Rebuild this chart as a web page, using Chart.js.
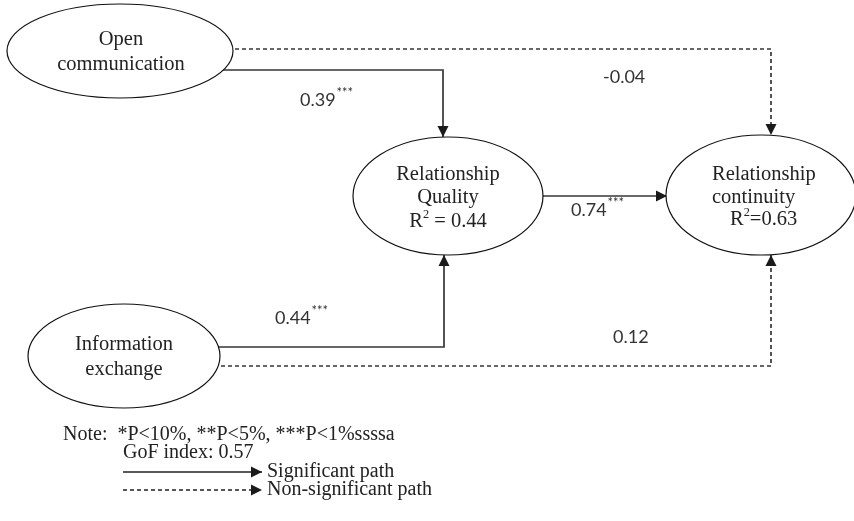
<!DOCTYPE html>
<html lang="en">
<head>
  <meta charset="UTF-8">
  <title>Path model</title>
  <script src="https://cdn.jsdelivr.net/npm/chart.js"></script>
  <style>
    body { margin: 0; background: #fff; }
    #grafico { display: block; }
  </style>
</head>
<body>
  <canvas id="grafico" width="854" height="521"></canvas>

<script>
  // constructs and their labels
  const construtos = ['Open communication', 'Relationship Quality', 'Relationship continuity', 'Information exchange'];
  const r2 = [null, 0.44, 0.63, null];

  // paths: origin, destination, coefficient, stars, significant?
  const origem = [0, 0, 1, 3, 3];
  const destino = [1, 2, 2, 1, 2];
  const coeficientes = ['0.39', '-0.04', '0.74', '0.44', '0.12'];
  const estrelas = ['***', '', '***', '***', ''];
  const significativo = [true, false, true, true, false];

  const notas = ['Note:  *P<10%, **P<5%, ***P<1%ssssa', 'GoF index: 0.57'];
  const legendaTxt = ['Significant path', 'Non-significant path'];

  // layout (diagram units = pixels of the original)
  const elipses = [
    { cx: 120, cy: 51, rx: 113, ry: 47, linhas: [[['Open']], [['communication']]], al: 'center', x: 121, ys: [40, 65] },
    { cx: 448, cy: 196, rx: 95, ry: 59, linhas: [[['Relationship']], [['Quality']], [['R'], ['2', 1], [' = ']]], al: 'center', x: 448, ys: [175, 198, 222] },
    { cx: 761, cy: 195, rx: 95, ry: 60, linhas: [[['Relationship']], [['continuity']], [['R'], ['2', 1], ['=']]], al: 'left', x: 712, xs: [712, 712, 730], ys: [175, 198, 220] },
    { cx: 124, cy: 356, rx: 96, ry: 52, linhas: [[['Information']], [['exchange']]], al: 'center', x: 124, ys: [345, 370] }
  ];
  const rotasX = [[200, 443, 443], [200, 771, 771], [520, 667], [200, 444, 444], [200, 771, 771]];
  const rotasY = [[70, 70, 137], [49, 49, 135], [196, 196], [347, 347, 255], [366, 366, 255]];
  const rotulos = [[300, 100], [603, 77], [571, 210], [275, 318], [613, 337]];

  const legX = [123, 262];
  const legY = [472, 490];
  const notaPos = [[63, 435], [123, 453]];

  // R² text comes from the data array
  elipses[1].linhas[2][2][0] += r2[1].toFixed(2);
  elipses[2].linhas[2][2][0] += r2[2].toFixed(2);

  const datasets = rotasX.map((xs, i) => ({
    label: construtos[origem[i]] + ' -> ' + construtos[destino[i]],
    data: xs.map((x, j) => ({ x: x, y: rotasY[i][j] })),
    showLine: true,
    borderColor: '#363636',
    borderWidth: 1.7,
    borderDash: significativo[i] ? [] : [4, 3],
    pointRadius: 0,
    fill: false
  }));
  // legend sample lines
  legY.forEach((y, i) => {
    datasets.push({
      label: legendaTxt[i],
      data: legX.map(x => ({ x: x, y: y })),
      showLine: true,
      borderColor: '#222',
      borderWidth: 1.3,
      borderDash: i === 0 ? [] : [4, 3],
      pointRadius: 0
    });
  });

  function seta(ctx, x1, y1, x2, y2) {
    const ang = Math.atan2(y2 - y1, x2 - x1);
    const L = 11, W = 5.5;
    ctx.beginPath();
    ctx.moveTo(x2, y2);
    ctx.lineTo(x2 - L * Math.cos(ang) + W * Math.sin(ang), y2 - L * Math.sin(ang) - W * Math.cos(ang));
    ctx.lineTo(x2 - L * Math.cos(ang) - W * Math.sin(ang), y2 - L * Math.sin(ang) + W * Math.cos(ang));
    ctx.closePath();
    ctx.fill();
  }

  function linhaRica(ctx, partes, x, y, al, tam) {
    const medir = p => { ctx.font = (p[1] ? tam * 0.6 : tam) + 'px "Liberation Serif"'; return ctx.measureText(p[0]).width; };
    let total = partes.reduce((s, p) => s + medir(p), 0);
    let cx = al === 'center' ? x - total / 2 : x;
    partes.forEach(p => {
      const w = medir(p);
      ctx.fillText(p[0], cx, p[1] ? y - tam * 0.35 : y);
      cx += w;
    });
  }

  const diagrama = {
    id: 'diagrama',
    afterDatasetsDraw(chart) {
      const ctx = chart.ctx;
      const sx = chart.scales.x, sy = chart.scales.y;
      const px = v => sx.getPixelForValue(v), py = v => sy.getPixelForValue(v);
      ctx.save();

      // arrowheads
      ctx.fillStyle = '#1a1a1a';
      rotasX.forEach((xs, i) => {
        const n = xs.length;
        seta(ctx, px(xs[n - 2]), py(rotasY[i][n - 2]), px(xs[n - 1]), py(rotasY[i][n - 1]));
      });
      legY.forEach(y => seta(ctx, px(legX[0]), py(y), px(legX[1]), py(y)));

      // ellipses (white fill hides the start of the paths)
      elipses.forEach(e => {
        ctx.beginPath();
        ctx.ellipse(px(e.cx), py(e.cy), Math.abs(px(e.cx + e.rx) - px(e.cx)), Math.abs(py(e.cy + e.ry) - py(e.cy)), 0, 0, Math.PI * 2);
        ctx.fillStyle = '#fff';
        ctx.fill();
        ctx.strokeStyle = '#111';
        ctx.lineWidth = 1.2;
        ctx.stroke();

        ctx.fillStyle = '#222';
        ctx.textBaseline = 'middle';
        ctx.textAlign = 'left';
        e.linhas.forEach((l, j) => {
          const x = e.xs ? e.xs[j] : e.x;
          linhaRica(ctx, l, px(x), py(e.ys[j]), e.al, 20.5);
        });
      });

      // path coefficients
      ctx.fillStyle = '#333';
      ctx.textAlign = 'left';
      ctx.textBaseline = 'middle';
      coeficientes.forEach((c, i) => {
        const x = px(rotulos[i][0]), y = py(rotulos[i][1]);
        ctx.font = '18px Lato';
        ctx.fillText(c, x, y);
        if (estrelas[i]) {
          const w = ctx.measureText(c).width;
          ctx.font = '13px Lato';
          ctx.fillText(estrelas[i], x + w + 1, y - 7);
        }
      });

      // notes and legend text
      ctx.fillStyle = '#222';
      ctx.font = '20px "Liberation Serif"';
      notas.forEach((t, i) => ctx.fillText(t, px(notaPos[i][0]), py(notaPos[i][1])));
      legendaTxt.forEach((t, i) => ctx.fillText(t, px(legX[1] + 5), py(legY[i])));

      ctx.restore();
    }
  };

  new Chart(document.getElementById('grafico'), {
    type: 'scatter',
    data: { datasets: datasets },
    options: {
      responsive: false,
      animation: false,
      layout: { padding: 0 },
      plugins: { legend: { display: false }, tooltip: { enabled: false } },
      scales: {
        x: { type: 'linear', min: 0, max: 854, display: false },
        y: { type: 'linear', min: 0, max: 521, reverse: true, display: false }
      }
    },
    plugins: [diagrama]
  });
</script>
</body>
</html>
